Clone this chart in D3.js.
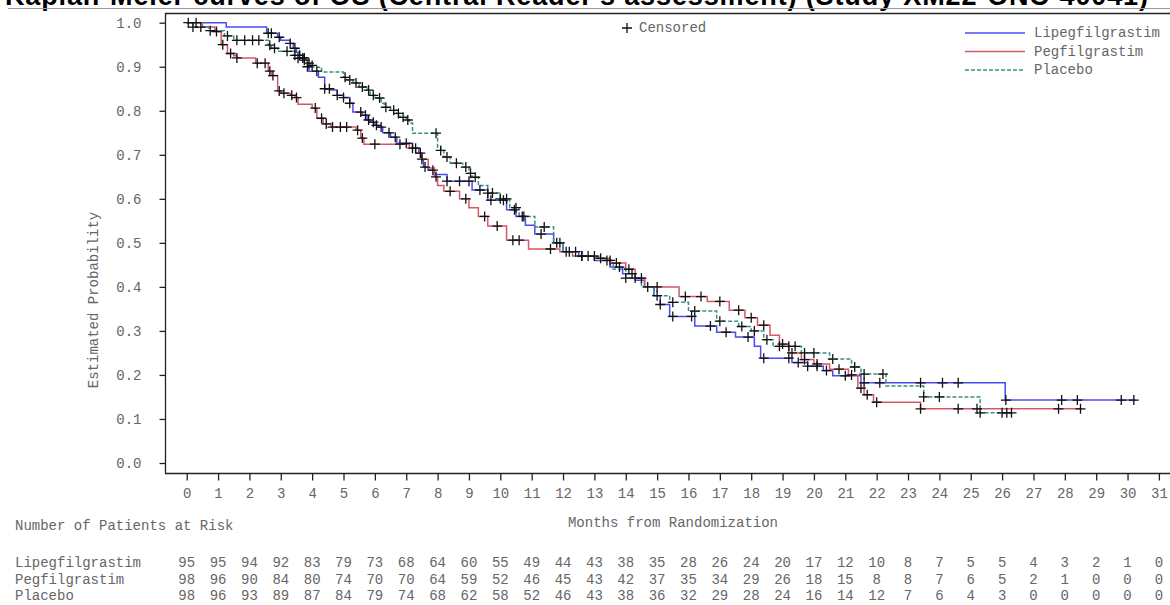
<!DOCTYPE html>
<html>
<head>
<meta charset="utf-8">
<script src="https://cdn.jsdelivr.net/npm/d3@7"></script>
<style>
  body { margin: 0; background: #fff; }
  svg { display: block; }
  .mono { font-family: "Liberation Mono", "DejaVu Sans Mono", monospace; fill: #666; }
</style>
</head>
<body>
<svg width="1170" height="605"></svg>
<script>
// x axis months and risk table
const months = d3.range(0, 32);
const riskLipeg = [95,95,94,92,83,79,73,68,64,60,55,49,44,43,38,35,28,26,24,20,17,12,10,8,7,5,5,4,3,2,1,0];
const riskPeg   = [98,96,90,84,80,74,70,70,64,59,52,46,45,43,42,37,35,34,29,26,18,15,8,8,7,6,5,2,1,0,0,0];
const riskPlac  = [98,96,93,89,87,84,79,74,68,62,58,52,46,43,38,36,32,29,28,24,16,14,12,7,6,4,3,0,0,0,0,0];
const yTicks = [0,0.1,0.2,0.3,0.4,0.5,0.6,0.7,0.8,0.9,1.0];

// KM steps: [month, survival from that month on]
const stepsLipeg = [[0,1.0],[1.26,0.99],[2.55,0.976],[2.9,0.967],[3.0,0.96],[3.3,0.953],[3.4,0.942],[3.5,0.933],[3.6,0.926],[3.7,0.92],[3.8,0.915],[3.85,0.9],[3.9,0.89],[4.2,0.876],[4.4,0.85],[4.6,0.847],[4.8,0.835],[5.0,0.83],[5.2,0.817],[5.3,0.797],[5.6,0.79],[5.75,0.779],[5.85,0.774],[6.0,0.767],[6.1,0.763],[6.25,0.75],[6.5,0.74],[6.7,0.726],[7.2,0.715],[7.4,0.704],[7.5,0.688],[7.55,0.672],[7.7,0.665],[7.9,0.655],[8.3,0.64],[9.1,0.62],[9.6,0.597],[10.2,0.575],[10.5,0.56],[10.8,0.54],[11.1,0.52],[11.7,0.5],[12.0,0.48],[12.5,0.47],[13.0,0.46],[13.5,0.445],[13.9,0.43],[14.3,0.415],[14.6,0.4],[14.9,0.38],[15.1,0.36],[15.4,0.333],[16.2,0.311],[16.9,0.297],[17.5,0.286],[18.1,0.265],[18.3,0.238],[19.3,0.228],[19.8,0.22],[20.3,0.21],[20.6,0.198],[21.5,0.182],[26.1,0.143]];
const stepsPeg = [[0,1.0],[0.5,0.99],[0.9,0.98],[1.1,0.95],[1.3,0.93],[1.5,0.925],[1.6,0.92],[2.2,0.908],[2.6,0.89],[2.7,0.88],[2.9,0.845],[3.0,0.84],[3.3,0.835],[3.45,0.83],[3.55,0.815],[4.0,0.806],[4.15,0.783],[4.35,0.77],[4.6,0.763],[5.4,0.756],[5.55,0.738],[5.65,0.724],[7.1,0.715],[7.3,0.704],[7.5,0.69],[7.7,0.67],[7.9,0.65],[8.0,0.63],[8.2,0.617],[8.7,0.6],[9.0,0.58],[9.3,0.56],[9.6,0.538],[10.2,0.506],[10.9,0.486],[11.9,0.48],[12.3,0.47],[13.0,0.465],[13.5,0.454],[14.0,0.44],[14.3,0.42],[14.6,0.40],[15.7,0.378],[16.6,0.367],[17.3,0.347],[17.8,0.33],[18.2,0.313],[18.6,0.29],[18.9,0.27],[19.2,0.25],[19.6,0.235],[20.0,0.225],[20.5,0.213],[21.1,0.2],[21.4,0.17],[21.6,0.155],[21.9,0.138],[23.4,0.123]];
const stepsPlac = [[0,1.0],[0.2,0.99],[0.7,0.982],[1.2,0.97],[1.5,0.96],[2.6,0.949],[2.7,0.942],[2.9,0.935],[3.4,0.926],[3.5,0.919],[3.7,0.915],[3.85,0.908],[3.95,0.903],[4.05,0.899],[4.3,0.888],[5.0,0.876],[5.1,0.87],[5.3,0.863],[5.5,0.854],[5.75,0.847],[5.85,0.835],[6.0,0.829],[6.2,0.817],[6.3,0.808],[6.5,0.801],[6.7,0.794],[6.8,0.785],[7.0,0.779],[7.1,0.772],[7.2,0.749],[8.0,0.717],[8.1,0.71],[8.2,0.695],[8.4,0.681],[8.8,0.672],[9.0,0.658],[9.1,0.649],[9.3,0.63],[9.6,0.613],[10.0,0.6],[10.3,0.58],[10.6,0.56],[11.1,0.536],[11.7,0.5],[12.0,0.48],[12.5,0.47],[13.1,0.46],[13.6,0.44],[14.0,0.42],[14.5,0.4],[14.9,0.38],[15.4,0.365],[16.0,0.345],[16.9,0.322],[17.6,0.31],[18.0,0.3],[18.4,0.28],[18.7,0.265],[19.6,0.25],[20.5,0.236],[21.2,0.218],[21.5,0.202],[22.3,0.175],[23.5,0.15],[25.3,0.114]];
const endLipeg = 30.25, endPeg = 28.55, endPlac = 26.35;

// censoring times (months)
const censLipeg = [0.05,2.6,2.7,2.95,3.3,3.45,3.6,3.7,3.75,3.85,4.15,4.4,4.55,4.8,5.0,5.2,5.55,5.7,5.8,5.95,6.05,6.2,6.45,6.65,7.0,7.3,7.45,7.6,7.85,8.3,8.7,9.0,9.35,9.7,10.1,10.45,10.75,11.3,11.9,12.4,12.8,13.4,13.8,14.2,14.7,15.1,15.5,16.1,16.7,17.2,17.9,18.4,19.2,19.5,19.8,20.1,20.4,21.0,21.6,22.1,23.4,24.1,24.6,26.12,27.9,28.4,29.8,30.2];
const censPeg = [0.3,0.95,1.15,1.4,1.6,2.25,2.5,2.65,2.75,2.95,3.1,3.35,3.5,4.1,4.3,4.45,4.65,4.9,5.1,5.45,5.6,6.0,6.8,7.2,7.5,7.95,8.4,8.9,9.5,9.9,10.4,10.6,11.6,12.2,12.6,13.2,13.7,14.1,14.5,15.0,15.9,16.4,17.0,17.6,18.0,18.4,19.0,19.3,19.7,20.1,20.8,21.2,21.5,21.7,22.0,23.4,24.6,25.2,27.8,28.5];
const censPlac = [0.2,0.45,0.75,1.3,1.6,1.85,2.1,2.3,2.65,2.8,3.2,3.45,3.55,3.75,3.9,4.0,5.05,5.2,5.4,5.6,5.8,5.95,6.15,6.35,6.6,6.75,6.9,7.05,7.95,8.1,8.3,8.6,8.9,9.05,9.2,9.6,9.75,10.0,10.2,10.5,10.7,11.4,11.8,12.1,12.6,13.0,13.5,14.0,14.3,15.0,15.5,16.2,17.0,17.7,18.1,18.5,18.9,19.2,19.4,19.7,20.0,20.6,21.3,21.6,22.2,23.5,24.0,25.3,26.0,26.15,26.3];

const names = ["Lipegfilgrastim", "Pegfilgrastim", "Placebo"];
const colors = ["#4b4bf0", "#d25a68", "#3a8f86"];
const dashes = [null, null, "4,2"];

const series = [
  {steps: stepsLipeg, end: endLipeg, cens: censLipeg, risk: riskLipeg},
  {steps: stepsPeg, end: endPeg, cens: censPeg, risk: riskPeg},
  {steps: stepsPlac, end: endPlac, cens: censPlac, risk: riskPlac}
];

const svg = d3.select('svg');

const x = d3.scaleLinear().domain([0, 31]).range([186.7, 1158.9]);
const y = d3.scaleLinear().domain([0, 1]).range([463, 22.7]);

// title, sitting partly above the page like the source
svg.append('text')
  .attr('x', 5).attr('y', 5)
  .attr('font-family', 'Liberation Sans, Arial, sans-serif')
  .attr('font-weight', 'bold')
  .attr('font-size', 27)
  .attr('textLength', 1143)
  .attr('fill', '#000')
  .text("Kaplan-Meier curves of OS (Central Reader's assessment) (Study XM22-ONC-40041)");
svg.append('line')
  .attr('x1', 8).attr('x2', 1170).attr('y1', 8.5).attr('y2', 8.5)
  .attr('stroke', '#999').attr('stroke-width', 1);

// frame
svg.append('path')
  .attr('d', 'M1172,13.5H165.5V473.5H1172')
  .attr('fill', 'none').attr('stroke', '#222').attr('stroke-width', 1.3);

// axes
const xAxis = svg.append('g')
  .attr('transform', 'translate(0,473.5)')
  .call(d3.axisBottom(x).tickValues(months).tickSize(7).tickPadding(8).tickFormat(d3.format('d')));
const yAxis = svg.append('g')
  .attr('transform', 'translate(165.5,0)')
  .call(d3.axisLeft(y).tickValues(yTicks).tickSize(6).tickPadding(18).tickFormat(d3.format('.1f')));
[xAxis, yAxis].forEach(g => {
  g.select('.domain').remove();
  g.selectAll('.tick line').attr('stroke', '#222').attr('stroke-width', 1.3);
  g.selectAll('.tick text')
    .attr('class', 'mono')
    .attr('font-size', 14)
    .attr('fill', '#666');
});

// axis labels
svg.append('text').attr('class', 'mono')
  .attr('x', 673).attr('y', 527).attr('font-size', 14)
  .attr('text-anchor', 'middle')
  .text('Months from Randomization');
svg.append('text').attr('class', 'mono')
  .attr('transform', 'translate(98,300) rotate(-90)')
  .attr('font-size', 14)
  .attr('text-anchor', 'middle')
  .text('Estimated Probability');

// curves
const survAt = (steps, t) => {
  let s = steps[0][1];
  steps.forEach(p => { if (p[0] <= t) s = p[1]; });
  return s;
};
const line = d3.line()
  .x(d => x(d[0]))
  .y(d => y(d[1]))
  .curve(d3.curveStepAfter);

series.forEach((s, i) => {
  const pts = s.steps.concat([[s.end, s.steps[s.steps.length - 1][1]]]);
  svg.append('path')
    .datum(pts)
    .attr('d', line)
    .attr('fill', 'none')
    .attr('stroke', colors[i])
    .attr('stroke-width', 1.5)
    .attr('stroke-dasharray', dashes[i]);
});

// censor marks
const cross = 5;
series.forEach(s => {
  svg.append('g').selectAll('path')
    .data(s.cens)
    .enter()
    .append('path')
    .attr('d', t => {
      const cx = x(t), cy = y(survAt(s.steps, t));
      return 'M' + (cx - cross) + ',' + cy + 'H' + (cx + cross) + 'M' + cx + ',' + (cy - cross) + 'V' + (cy + cross);
    })
    .attr('stroke', '#111')
    .attr('stroke-width', 1.3)
    .attr('fill', 'none');
});

// censored legend
svg.append('path')
  .attr('d', 'M' + (627 - cross) + ',28H' + (627 + cross) + 'M627,' + (28 - cross) + 'V' + (28 + cross))
  .attr('stroke', '#111').attr('stroke-width', 1.3);
svg.append('text').attr('class', 'mono')
  .attr('x', 639).attr('y', 32).attr('font-size', 14)
  .text('Censored');

// series legend
const leg = svg.append('g').selectAll('g')
  .data(names)
  .enter()
  .append('g')
  .attr('transform', (d, i) => 'translate(965,' + (33 + i * 18.5) + ')');
leg.append('line')
  .attr('x1', 0).attr('x2', 60)
  .attr('stroke', (d, i) => colors[i])
  .attr('stroke-width', 1.5)
  .attr('stroke-dasharray', (d, i) => dashes[i]);
leg.append('text').attr('class', 'mono')
  .attr('x', 69).attr('y', 4).attr('font-size', 14)
  .text(d => d);

// risk table
svg.append('text').attr('class', 'mono')
  .attr('x', 15).attr('y', 530).attr('font-size', 14)
  .text('Number of Patients at Risk');
const rows = svg.append('g').selectAll('g')
  .data(series)
  .enter()
  .append('g')
  .attr('transform', (d, i) => 'translate(0,' + (567 + i * 16.5) + ')');
rows.append('text').attr('class', 'mono')
  .attr('x', 15).attr('font-size', 14)
  .text((d, i) => names[i]);
rows.selectAll('.n')
  .data(d => d.risk)
  .enter()
  .append('text')
  .attr('class', 'mono')
  .attr('x', (d, i) => x(months[i]))
  .attr('text-anchor', 'middle')
  .attr('font-size', 14)
  .text(d => d);
</script>
</body>
</html>
